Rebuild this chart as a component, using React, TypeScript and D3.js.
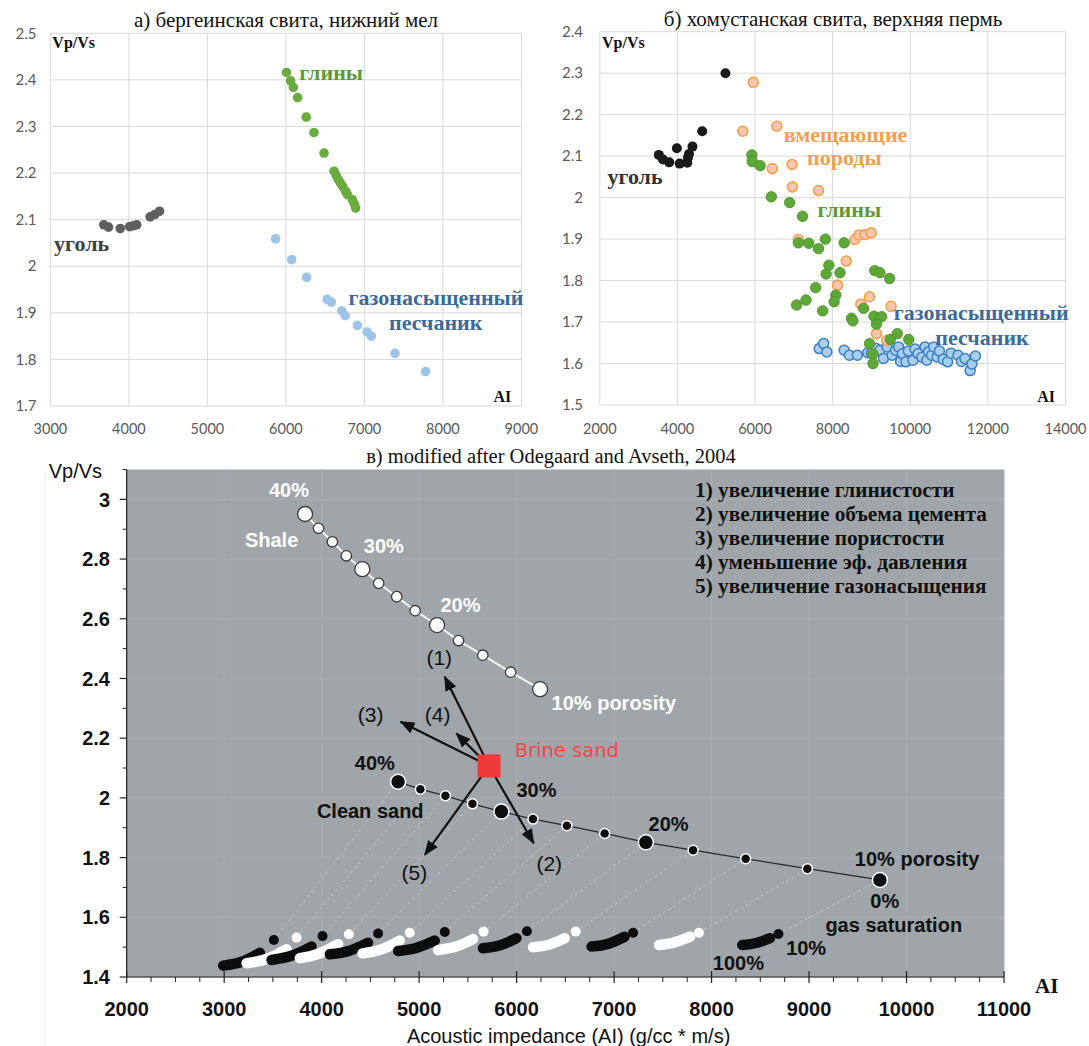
import React from 'react';
import * as d3 from 'd3';

type P = [number, number];

// а) бергеинская свита
const coalA: P[] = [[3680, 2.089], [3740, 2.084], [3890, 2.081], [4010, 2.085], [4060, 2.087], [4100, 2.089], [4270, 2.106], [4330, 2.111], [4390, 2.118]];
const claysA: P[] = [[6007, 2.416], [6060, 2.398], [6095, 2.384], [6149, 2.362], [6259, 2.32], [6357, 2.287], [6486, 2.243], [6614, 2.204], [6641, 2.195], [6667, 2.186], [6694, 2.179], [6725, 2.171], [6760, 2.161], [6783, 2.154], [6845, 2.143], [6871, 2.134], [6889, 2.125]];
const sandA: P[] = [[5869, 2.059], [6073, 2.014], [6264, 1.976], [6525, 1.929], [6579, 1.923], [6712, 1.904], [6756, 1.894], [6911, 1.873], [7035, 1.859], [7089, 1.85], [7390, 1.813], [7780, 1.774]];

// б) хомустанская свита
const coalB: P[] = [[3521, 2.103], [3628, 2.092], [3789, 2.085], [3986, 2.119], [4057, 2.082], [4254, 2.084], [4272, 2.097], [4298, 2.105], [4388, 2.123], [4639, 2.16], [5238, 2.3]];
const hostB: P[] = [[5953, 2.278], [5685, 2.16], [6562, 2.172], [6445, 2.07], [6955, 2.08], [6964, 2.026], [7635, 2.017], [7116, 1.899], [8574, 1.899], [8681, 1.91], [8834, 1.911], [8995, 1.915], [8351, 1.847], [8127, 1.789], [8726, 1.743], [8950, 1.761], [9504, 1.738], [9128, 1.672], [9396, 1.656]];
const claysB: P[] = [[5918, 2.103], [5927, 2.087], [6132, 2.077], [6419, 2.002], [6893, 1.988], [7224, 1.955], [7116, 1.891], [7385, 1.89], [7635, 1.877], [7814, 1.9], [8297, 1.891], [7903, 1.837], [7832, 1.816], [8190, 1.819], [7564, 1.783], [7072, 1.741], [7313, 1.753], [7742, 1.727], [8082, 1.765], [8038, 1.749], [8485, 1.709], [8521, 1.703], [8798, 1.733], [9084, 1.824], [9218, 1.819], [9469, 1.805], [9066, 1.714], [9263, 1.713], [9128, 1.695], [8950, 1.648], [9039, 1.623], [9039, 1.6], [9487, 1.658], [9665, 1.672], [9960, 1.658]];
const sandB: P[] = [[7653, 1.636], [7769, 1.648], [7850, 1.628], [8297, 1.632], [8431, 1.62], [8637, 1.62], [8905, 1.626], [9000, 1.625], [9128, 1.636], [9218, 1.632], [9308, 1.612], [9400, 1.64], [9531, 1.62], [9620, 1.632], [9700, 1.64], [9750, 1.605], [9800, 1.624], [9889, 1.604], [9950, 1.63], [10068, 1.608], [10120, 1.635], [10202, 1.624], [10300, 1.615], [10381, 1.64], [10426, 1.608], [10470, 1.628], [10550, 1.62], [10605, 1.64], [10694, 1.616], [10750, 1.63], [10850, 1.61], [10962, 1.604], [11050, 1.625], [11231, 1.62], [11320, 1.605], [11410, 1.612], [11543, 1.583], [11588, 1.599], [11678, 1.618]];

// в) Odegaard and Avseth
const shaleLine: P[] = [[3830, 2.951], [3968, 2.903], [4110, 2.858], [4253, 2.811], [4417, 2.766], [4585, 2.719], [4770, 2.674], [4959, 2.627], [5184, 2.579], [5404, 2.527], [5653, 2.478], [5939, 2.421], [6241, 2.364]];
const shaleBig = [0, 4, 8, 12];
const cleanSand: P[] = [[4784, 2.054], [5013, 2.029], [5270, 2.007], [5547, 1.98], [5844, 1.954], [6168, 1.929], [6516, 1.907], [6903, 1.881], [7326, 1.851], [7810, 1.825], [8350, 1.796], [8983, 1.763], [9727, 1.725]];
const sandBig = [0, 4, 8, 12];
const gasCurves: P[][] = [
  [[2990, 1.438], [3180, 1.451], [3366, 1.481]],
  [[3230, 1.446], [3440, 1.461], [3640, 1.493]],
  [[3486, 1.457], [3690, 1.471], [3896, 1.502]],
  [[3776, 1.463], [3970, 1.478], [4169, 1.51]],
  [[4084, 1.476], [4280, 1.487], [4476, 1.515]],
  [[4419, 1.479], [4610, 1.492], [4801, 1.522]],
  [[4784, 1.487], [4970, 1.497], [5160, 1.522]],
  [[5194, 1.49], [5370, 1.501], [5553, 1.527]],
  [[5655, 1.496], [5830, 1.506], [5998, 1.53]],
  [[6168, 1.5], [6330, 1.508], [6493, 1.53]],
  [[6769, 1.502], [6940, 1.511], [7108, 1.535]],
  [[7461, 1.507], [7620, 1.516], [7780, 1.535]],
  [[8315, 1.507], [8460, 1.514], [8599, 1.53]],
];
const gas10: P[] = [[3510, 1.524], [3743, 1.532], [4009, 1.537], [4279, 1.543], [4579, 1.546], [4904, 1.548], [5263, 1.551], [5662, 1.552], [6106, 1.553], [6606, 1.552], [7195, 1.548], [7870, 1.548], [8686, 1.544]];
const brineSand: P = [5717, 2.107];
const trendEnds: P[] = [[5262, 2.406], [4809, 2.255], [5382, 2.216], [6175, 1.848], [5058, 1.809]];
const legendLines = [
  '1) увеличение глинистости',
  '2) увеличение объема цемента',
  '3) увеличение пористости',
  '4) уменьшение эф. давления',
  '5) увеличение газонасыщения',
];

const SERIF = '"Liberation Serif", "Times New Roman", serif';
const SANS = '"Liberation Sans", Arial, sans-serif';
const TICK = 'Lato, "Open Sans", sans-serif';

const xA = d3.scaleLinear().domain([3000, 9000]).range([50.4, 521.4]);
const yA = d3.scaleLinear().domain([1.7, 2.5]).range([406, 33.3]);
const xB = d3.scaleLinear().domain([2000, 14000]).range([599.8, 1065.5]);
const yB = d3.scaleLinear().domain([1.5, 2.4]).range([405, 31.7]);
const xC = d3.scaleLinear().domain([2000, 11000]).range([126.7, 1004]);
const yC = d3.scaleLinear().domain([1.4, 3.1]).range([977, 469.5]);

const fmt = (v: number) => String(+v.toFixed(1));

const Frame = ({ x, y, xt, yt, labelRight }: any) => {
  const [x0, x1] = x.range();
  const [y0, y1] = y.range();
  return (
    <g>
      {xt.map((t: number) => (
        <line key={'vx' + t} x1={x(t)} x2={x(t)} y1={y0} y2={y1} stroke="#d9d9d9" />
      ))}
      {yt.map((t: number) => (
        <line key={'hy' + t} x1={x0} x2={x1} y1={y(t)} y2={y(t)} stroke="#d9d9d9" />
      ))}
      {xt.map((t: number) => (
        <text key={'lx' + t} x={x(t)} y={434} textAnchor="middle" fontFamily={TICK} fontSize={14.5} fill="#595959">{t}</text>
      ))}
      {yt.map((t: number) => (
        <text key={'ly' + t} x={labelRight} y={y(t)} dy="0.35em" textAnchor="end" fontFamily={TICK} fontSize={15} fill="#595959">{fmt(t)}</text>
      ))}
    </g>
  );
};

const Dots = ({ data, x, y, r, fill, stroke, sw }: any) => (
  <g>
    {data.map((d: P, i: number) => (
      <circle key={i} cx={x(d[0])} cy={y(d[1])} r={r} fill={fill} stroke={stroke || 'none'} strokeWidth={sw || 0} />
    ))}
  </g>
);

const Label = ({ x, y, color, children, size = 22, anchor = 'start' }: any) => (
  <text x={x} y={y} fill={color} fontFamily={SERIF} fontWeight="bold" fontSize={size} textAnchor={anchor}>{children}</text>
);

const PanelA = () => (
  <g>
    <text x={286} y={27} textAnchor="middle" fontFamily={SERIF} fontSize={21} fill="#111">а) бергеинская свита, нижний мел</text>
    <Frame x={xA} y={yA} xt={d3.range(3000, 9001, 1000)} yt={d3.range(17, 26).map((v) => v / 10)} labelRight={36.5} />
    <Dots data={coalA} x={xA} y={yA} r={4.8} fill="#5f5f5f" />
    <Dots data={claysA} x={xA} y={yA} r={4.8} fill="#6aab40" />
    <Dots data={sandA} x={xA} y={yA} r={4.8} fill="#9dc3e6" />
    <Label x={xA(3025)} y={yA(2.468)} color="#111" size={16}>Vp/Vs</Label>
    <Label x={xA(8870)} y={yA(1.709)} color="#111" size={16} anchor="end">AI</Label>
    <Label x={xA(6170)} y={yA(2.4)} color="#5f9a37">глины</Label>
    <Label x={xA(3046)} y={yA(2.033)} color="#404040">уголь</Label>
    <Label x={xA(6799)} y={yA(1.917)} color="#3d6a99">газонасыщенный</Label>
    <Label x={xA(7313)} y={yA(1.863)} color="#3d6a99">песчаник</Label>
  </g>
);

const PanelB = () => (
  <g>
    <text x={833} y={26} textAnchor="middle" fontFamily={SERIF} fontSize={21} fill="#111">б) хомустанская свита, верхняя пермь</text>
    <Frame x={xB} y={yB} xt={d3.range(2000, 14001, 2000)} yt={d3.range(15, 25).map((v) => v / 10)} labelRight={583} />
    <Dots data={sandB} x={xB} y={yB} r={5} fill="#a9cdee" stroke="#3a7fc0" sw={1.5} />
    <Dots data={hostB} x={xB} y={yB} r={5} fill="#f7c5b0" stroke="#f2a04c" sw={1.6} />
    <Dots data={claysB} x={xB} y={yB} r={5.2} fill="#5ea838" stroke="#4a9229" sw={0.9} />
    <Dots data={coalB} x={xB} y={yB} r={5} fill="#1a1a1a" />
    <Label x={xB(2057)} y={yB(2.361)} color="#111" size={16}>Vp/Vs</Label>
    <Label x={xB(13730)} y={yB(1.508)} color="#111" size={16} anchor="end">AI</Label>
    <Label x={xB(6739)} y={yB(2.135)} color="#f2a050">вмещающие</Label>
    <Label x={xB(7340)} y={yB(2.079)} color="#f2a050">породы</Label>
    <Label x={xB(2198)} y={yB(2.034)} color="#333">уголь</Label>
    <Label x={xB(7607)} y={yB(1.953)} color="#5f9a37">глины</Label>
    <Label x={xB(9574)} y={yB(1.705)} color="#3d6a99">газонасыщенный</Label>
    <Label x={xB(10646)} y={yB(1.645)} color="#3d6a99">песчаник</Label>
  </g>
);

const curve = d3.line<P>().x((d) => xC(d[0])).y((d) => yC(d[1])).curve(d3.curveMonotoneX);
const straight = d3.line<P>().x((d) => xC(d[0])).y((d) => yC(d[1]));

const CT = ({ x, y, children, fill = '#111', weight = 'bold', size = 20, family = SANS }: any) => (
  <text x={xC(x)} y={yC(y)} fill={fill} fontWeight={weight} fontSize={size} fontFamily={family}>{children}</text>
);

const PanelC = () => {
  const [x0, x1] = xC.range();
  const [y0, y1] = yC.range();
  const majorX = d3.range(2000, 11001, 1000);
  const minorX = d3.range(2000, 11001, 250).filter((v) => v % 1000 !== 0);
  const majorY = d3.range(14, 31, 2).map((v) => v / 10);
  const minorY = d3.range(15, 32, 2).map((v) => v / 10);
  return (
    <g>
      <defs>
        <marker id="ah" viewBox="0 0 15 12" refX={14} refY={6} markerWidth={15} markerHeight={12} markerUnits="userSpaceOnUse" orient="auto">
          <path d="M0,0 L15,6 L0,12 z" fill="#111" />
        </marker>
      </defs>
      <line x1={45} x2={45} y1={470} y2={1046} stroke="#ececec" />
      <text x={551} y={463} textAnchor="middle" fontFamily={SERIF} fontSize={20.5} fill="#111">в) modified after Odegaard and Avseth, 2004</text>
      <rect x={x0} y={y1} width={x1 - x0} height={y0 - y1} fill="#9fa5a9" />
      {majorX.map((t) => (
        <line key={'gx' + t} x1={xC(t)} x2={xC(t)} y1={y0} y2={y1} stroke="#aab0b3" />
      ))}
      {majorY.map((t) => (
        <line key={'gy' + t} x1={x0} x2={x1} y1={yC(t)} y2={yC(t)} stroke="#aab0b3" />
      ))}
      {/* gas saturation dashed links */}
      {gas10.map((d, i) => (
        <path key={'dl' + i} d={straight([d, cleanSand[i]]) || ''} stroke="#c3c7ca" strokeWidth={1} strokeDasharray="3,3" fill="none" />
      ))}
      {gasCurves.map((c, i) => (
        <g key={'gc' + i}>
          <path d={curve(c) || ''} stroke={i % 2 ? '#ffffff' : '#0d0d0d'} strokeWidth={10.5} strokeLinecap="round" fill="none" />
          <circle cx={xC(gas10[i][0])} cy={yC(gas10[i][1])} r={5} fill={i % 2 ? '#ffffff' : '#0d0d0d'} />
        </g>
      ))}
      {/* shale */}
      <path d={straight(shaleLine) || ''} stroke="#f4f4f4" strokeWidth={2} fill="none" />
      {shaleLine.map((d, i) => (
        <circle key={'sh' + i} cx={xC(d[0])} cy={yC(d[1])} r={shaleBig.includes(i) ? 7.5 : 5.2} fill="#fff" stroke="#3a3a3a" strokeWidth={1.3} />
      ))}
      {/* clean sand */}
      <path d={straight(cleanSand) || ''} stroke="#2a2a2a" strokeWidth={1.3} fill="none" />
      {cleanSand.map((d, i) => (
        <circle key={'cs' + i} cx={xC(d[0])} cy={yC(d[1])} r={sandBig.includes(i) ? 7.5 : 5} fill="#0d0d0d" stroke="#fff" strokeWidth={1.5} />
      ))}
      {/* trends */}
      {trendEnds.map((d, i) => (
        <path key={'tr' + i} d={straight([brineSand, d]) || ''} stroke="#111" strokeWidth={2.2} fill="none" markerEnd="url(#ah)" />
      ))}
      <rect x={xC(brineSand[0]) - 11.5} y={yC(brineSand[1]) - 11.5} width={23} height={23} fill="#ee3a3a" />
      {/* axes */}
      <line x1={x0} x2={x0} y1={y0} y2={y1} stroke="#222" strokeWidth={1.2} />
      <line x1={x0} x2={x1} y1={y0} y2={y0} stroke="#222" strokeWidth={1.2} />
      {majorX.map((t) => (
        <g key={'tx' + t}>
          <line x1={xC(t)} x2={xC(t)} y1={y0 - 6} y2={y0 + 6} stroke="#222" strokeWidth={1.2} />
          <text x={xC(t)} y={1016} textAnchor="middle" fontFamily={SANS} fontWeight="bold" fontSize={20} fill="#111">{t}</text>
        </g>
      ))}
      {minorX.map((t) => (
        <line key={'mx' + t} x1={xC(t)} x2={xC(t)} y1={y0} y2={y0 + 5} stroke="#222" />
      ))}
      {majorY.map((t) => (
        <g key={'ty' + t}>
          <line x1={x0 - 7} x2={x0} y1={yC(t)} y2={yC(t)} stroke="#222" strokeWidth={1.2} />
          <text x={110} y={yC(t)} dy="0.36em" textAnchor="end" fontFamily={SANS} fontWeight="bold" fontSize={20} fill="#111">{fmt(t)}</text>
        </g>
      ))}
      {minorY.map((t) => (
        <line key={'my' + t} x1={x0 - 4} x2={x0} y1={yC(t)} y2={yC(t)} stroke="#222" />
      ))}
      <text x={48.7} y={478} fontFamily={SANS} fontSize={20} fill="#111">Vp/Vs</text>
      <text x={568.6} y={1043} textAnchor="middle" fontFamily={SANS} fontSize={20} fill="#111">Acoustic impedance (AI) (g/cc * m/s)</text>
      <text x={1035} y={993} fontFamily={SERIF} fontWeight="bold" fontSize={21} fill="#111">AI</text>
      {legendLines.map((s, i) => (
        <text key={'lg' + i} x={695} y={496.7 + i * 24} fontFamily={SERIF} fontWeight="bold" fontSize={21.3} fill="#111">{s}</text>
      ))}
      {/* annotations */}
      <CT x={3459} y={3.009} fill="#fff">40%</CT>
      <CT x={3213} y={2.842} fill="#fff">Shale</CT>
      <CT x={4432} y={2.82} fill="#fff">30%</CT>
      <CT x={5219} y={2.624} fill="#fff">20%</CT>
      <CT x={6359} y={2.294} fill="#fff">10% porosity</CT>
      <CT x={4340} y={2.093}>40%</CT>
      <CT x={3951} y={1.933}>Clean sand</CT>
      <CT x={5998} y={2.004}>30%</CT>
      <CT x={7354} y={1.89}>20%</CT>
      <CT x={9470} y={1.772}>10% porosity</CT>
      <CT x={9629} y={1.631}>0%</CT>
      <CT x={9168} y={1.552}>gas saturation</CT>
      <CT x={8013} y={1.423}>100%</CT>
      <CT x={8765} y={1.474}>10%</CT>
      <CT x={5980} y={2.138} fill="#f04a4a" weight="normal" size={19.5} family='"DejaVu Sans", sans-serif'>Brine sand</CT>
      <CT x={5075} y={2.445} weight="normal" size={21}>(1)</CT>
      <CT x={4371} y={2.255} weight="normal" size={21}>(3)</CT>
      <CT x={5058} y={2.255} weight="normal" size={21}>(4)</CT>
      <CT x={4819} y={1.725} weight="normal" size={21}>(5)</CT>
      <CT x={6203} y={1.755} weight="normal" size={21}>(2)</CT>
    </g>
  );
};

export default function App() {
  return (
    <svg width={1089} height={1046} style={{ position: 'absolute', left: 0, top: 0, background: '#fff' }}>
      <rect width={1089} height={1046} fill="#fff" />
      <PanelA />
      <PanelB />
      <PanelC />
    </svg>
  );
}
